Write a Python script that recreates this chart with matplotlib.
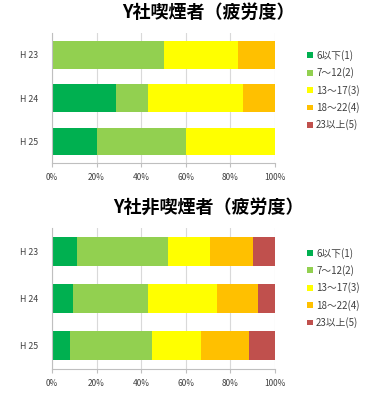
import matplotlib
matplotlib.use('Agg')
import matplotlib.pyplot as plt
import numpy as np

plt.rcParams['font.family'] = ['Noto Sans CJK JP', 'DejaVu Sans']

years = ['H 23', 'H 24', 'H 25']
levels = ['6以下(1)', '7～12(2)', '13～17(3)', '18～22(4)', '23以上(5)']
colors = ['#00B050', '#92D050', '#FFFF00', '#FFC000', '#C0504D']

# 喫煙者 (%)
smoker = [
    [0.0, 28.6, 20.0],
    [50.0, 14.3, 40.0],
    [33.3, 42.9, 40.0],
    [16.7, 14.2, 0.0],
    [0.0, 0.0, 0.0],
]
# 非喫煙者 (%)
nonsmoker = [
    [11.3, 9.2, 8.2],
    [40.9, 34.0, 36.8],
    [18.6, 30.7, 21.8],
    [19.4, 18.6, 21.7],
    [9.8, 7.5, 11.5],
]

fig = plt.figure(figsize=(3.65, 3.94), dpi=100)
ax1 = fig.add_axes([0.1425, 0.586, 0.611, 0.330])
ax2 = fig.add_axes([0.1425, 0.0635, 0.611, 0.358])


def draw(ax, data, title, bar_h, leg_y):
    y = np.arange(len(years))
    left = np.zeros(len(years))
    for vals, c, lab in zip(data, colors, levels):
        ax.barh(y, vals, left=left, height=bar_h, color=c, label=lab, zorder=2)
        left += np.array(vals)
    ax.set_xlim(0, 100)
    ax.set_ylim(2.5, -0.5)
    ax.set_yticks(y)
    ax.set_yticklabels(years, fontsize=6.3, color='#404040')
    ax.set_xticks(np.arange(0, 101, 20))
    ax.set_xticklabels([f'{v}%' for v in range(0, 101, 20)], fontsize=6, color='#404040')
    ax.tick_params(axis='y', length=0, pad=10)
    ax.tick_params(axis='x', length=3, color='#bfbfbf', pad=4)
    ax.grid(axis='x', color='#d9d9d9', linewidth=0.8, zorder=0)
    for s in ['top', 'right']:
        ax.spines[s].set_visible(False)
    for s in ['left', 'bottom']:
        ax.spines[s].set_color('#bfbfbf')
        ax.spines[s].set_linewidth(0.8)
    ax.set_title(title, fontsize=13, fontweight='bold', pad=11, x=0.7)
    ax.legend(loc='upper left', bbox_to_anchor=(1.145, leg_y), frameon=False,
              fontsize=7, handlelength=0.55, handleheight=0.55, handletextpad=0.35,
              labelspacing=0.66, borderpad=0, borderaxespad=0,
              labelcolor='#404040')


draw(ax1, smoker, 'Y社喫煙者（疲労度）', 0.64, 0.87)
draw(ax2, nonsmoker, 'Y社非喫煙者（疲労度）', 0.61, 0.86)

fig.savefig('out.png', dpi=100)
